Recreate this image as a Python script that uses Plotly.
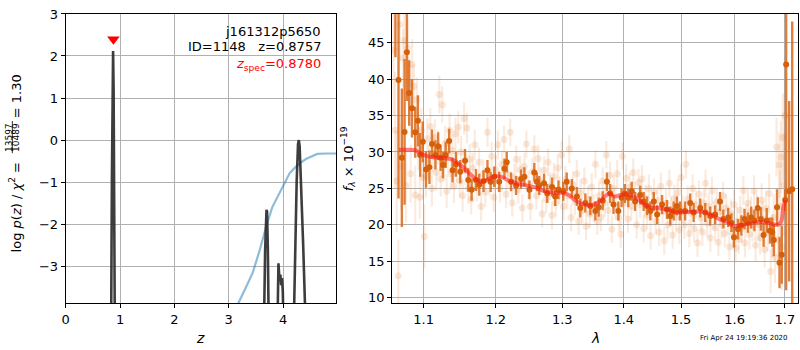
import plotly.graph_objects as go

# ---------------- left panel: p(z) ----------------
pz_z = [0.0, 0.83, 0.85, 0.862, 0.872, 0.882, 0.895, 0.91, 3.63, 3.67, 3.695, 3.705, 3.72, 3.75,
        3.89, 3.915, 3.935, 3.95, 3.965, 3.98, 3.995, 4.015, 4.18, 4.22, 4.25, 4.275, 4.29, 4.305,
        4.33, 4.37, 4.41, 4.43, 4.98]
pz_logp = [-9, -6.0, -1.0, 1.7, 2.12, 1.2, -2.0, -6.0, -6.0, -2.6, -1.66, -1.7, -2.6, -6.0,
           -5.0, -2.93, -3.35, -3.2, -3.45, -3.28, -3.6, -5.0, -5.5, -2.5, -1.0, -0.1, 0.0, -0.15,
           -1.0, -2.5, -4.2, -6.0, -9]

blue_z = [3.08, 3.17, 3.30, 3.44, 3.57, 3.69, 3.80, 3.93, 4.05, 4.12, 4.20, 4.30, 4.42, 4.54, 4.63, 4.80, 4.98]
blue_v = [-4.2, -3.9, -3.55, -3.16, -2.62, -2.05, -1.6, -1.26, -0.98, -0.79, -0.68, -0.56, -0.45, -0.37, -0.33, -0.32, -0.32]

z_spec = 0.878
z_spec_mark = 2.4

# ---------------- right panel: spectrum ----------------
model_lam = [1.068, 1.08, 1.09, 1.10, 1.11, 1.125, 1.14, 1.15, 1.16, 1.17, 1.18, 1.19, 1.20, 1.21, 1.22,
             1.23, 1.24, 1.25, 1.26, 1.27, 1.28, 1.29, 1.30, 1.31, 1.32, 1.33, 1.34, 1.35, 1.36, 1.37,
             1.375, 1.385, 1.395, 1.405, 1.415, 1.425, 1.435, 1.445, 1.46, 1.475, 1.49, 1.50, 1.52,
             1.54, 1.555, 1.57, 1.585, 1.60, 1.615, 1.63, 1.65, 1.67, 1.685, 1.692, 1.697, 1.701]
model_f = [30.3, 30.3, 30.2, 29.6, 29.3, 29.2, 28.9, 28.2, 27.3, 26.4, 25.9, 26.3, 26.7, 26.5, 26.0,
           25.7, 25.5, 25.3, 25.1, 24.7, 24.5, 24.4, 24.4, 24.1, 23.4, 22.9, 22.7, 22.8, 23.2, 24.0,
           24.3, 23.9, 24.1, 24.2, 23.9, 23.5, 22.8, 22.4, 22.3, 22.1, 21.7, 21.7, 21.8,
           21.8, 21.4, 20.8, 20.4, 19.8, 20.0, 20.2, 20.4, 20.2, 20.0, 20.4, 22.5, 23.4]

bin_lam = [1.0633, 1.0673, 1.0716, 1.0751, 1.0781, 1.0811, 1.0847, 1.0890, 1.0925, 1.0955, 1.0990,
           1.1032, 1.1078, 1.1112, 1.1158, 1.1195, 1.1228, 1.1260, 1.1297, 1.1344, 1.1391, 1.1437,
           1.1497, 1.1563, 1.1609, 1.1656, 1.1716, 1.1763, 1.1824, 1.1880, 1.1926, 1.1978, 1.2050,
           1.2125, 1.2159, 1.2223, 1.2297, 1.2371, 1.2421, 1.2496, 1.2570, 1.2610, 1.2644, 1.2718,
           1.2767, 1.2841, 1.2890, 1.2941, 1.3016, 1.3070, 1.3151, 1.3232, 1.3286, 1.3367, 1.3448,
           1.3529, 1.3584, 1.3650, 1.3719, 1.3773, 1.3828, 1.3909, 1.3963, 1.4018, 1.4077, 1.4135,
           1.4193, 1.4281, 1.4340, 1.4398, 1.4456, 1.4516, 1.4574, 1.4661, 1.4749, 1.4807, 1.4867,
           1.4925, 1.4982, 1.5074, 1.5167, 1.5230, 1.5352, 1.5444, 1.5537, 1.5630, 1.5722, 1.5785,
           1.5878, 1.5939, 1.5989, 1.6066, 1.6130, 1.6193, 1.6259, 1.6323, 1.6387, 1.6453, 1.6516,
           1.6569, 1.6632, 1.6696, 1.6743, 1.6774, 1.6839, 1.6890, 1.6936, 1.7005, 1.7025, 1.7087,
           1.7150]
bin_f = [60.0, 39.9, 29.2, 32.75, 43.7, 38.1, 36.0, 32.7, 34.3, 29.6, 31.4,
         27.6, 27.9, 31.1, 29.6, 30.8, 29.2, 28.2, 29.6, 31.5, 27.5, 28.3,
         27.3, 28.8, 26.15, 24.8, 26.15, 25.5, 26.0, 27.5, 25.9, 26.6, 25.9,
         27.7, 28.6, 25.9, 25.4, 26.3, 26.6, 24.8, 27.2, 25.9, 25.4, 25.7,
         24.3, 25.2, 23.9, 24.8, 24.6, 25.9, 25.0, 23.9, 22.3, 23.0, 22.6,
         21.9, 22.4, 23.3, 25.9, 24.3, 22.8, 21.9, 23.7, 24.3, 23.7, 24.6,
         23.2, 24.1, 23.2, 22.6, 21.9, 23.2, 21.4, 22.8, 22.1, 21.2, 21.9,
         22.6, 21.9, 21.9, 23.0, 21.7, 22.3, 21.7, 21.2, 21.4, 23.2, 20.8,
         21.0, 20.3, 18.3, 19.4, 19.9, 20.8, 20.3, 21.0, 20.6, 22.3, 20.8,
         18.6, 20.6, 19.2, 19.0, 17.9, 22.4, 14.8, 15.9, 23.4, 42.0, 24.6,
         24.9]
bin_err = [17, 16.3, 9.5, 10, 6.7, 4.5, 4.0, 3.5, 3.5, 3.0, 2.8,
           2.5, 2.3, 2.0, 2.0, 1.9, 1.8, 1.8, 1.8, 1.7, 1.7, 1.7,
           1.6, 1.6, 1.6, 1.5, 1.5, 1.5, 1.5, 1.4, 1.4, 1.4, 1.4,
           1.4, 1.4, 1.3, 1.3, 1.3, 1.3, 1.3, 1.3, 1.3, 1.3, 1.3,
           1.3, 1.3, 1.3, 1.3, 1.3, 1.3, 1.3, 1.3, 1.3, 1.3, 1.3,
           1.3, 1.3, 1.3, 1.3, 1.3, 1.3, 1.3, 1.3, 1.3, 1.3, 1.3,
           1.3, 1.3, 1.3, 1.3, 1.3, 1.3, 1.3, 1.3, 1.3, 1.3, 1.3,
           1.3, 1.3, 1.3, 1.3, 1.3, 1.3, 1.3, 1.3, 1.3, 1.3, 1.3,
           1.3, 1.3, 1.4, 1.4, 1.4, 1.4, 1.4, 1.5, 1.5, 1.5, 1.6,
           1.6, 1.7, 1.8, 2.0, 2.2, 2.5, 3.5, 4.0, 1.5, 31, 12.4,
           23]

exp_lam = [1.061, 1.063, 1.065, 1.067, 1.069, 1.071, 1.073, 1.075, 1.077, 1.079, 1.081, 1.083, 1.085,
           1.087, 1.089, 1.091, 1.093, 1.095, 1.097, 1.099, 1.101, 1.103, 1.105, 1.107, 1.109, 1.111,
           1.113, 1.115, 1.117, 1.119, 1.121, 1.123, 1.125, 1.127, 1.129, 1.131, 1.133, 1.135, 1.137,
           1.139, 1.141, 1.143, 1.145, 1.147, 1.149, 1.151, 1.153, 1.155, 1.157, 1.159, 1.161, 1.163,
           1.165, 1.167, 1.170, 1.173, 1.176, 1.179, 1.182, 1.185, 1.188, 1.191, 1.194, 1.197, 1.200,
           1.203, 1.206, 1.209, 1.212, 1.215, 1.218, 1.221, 1.224, 1.227, 1.230, 1.233, 1.236, 1.239,
           1.242, 1.245, 1.248, 1.251, 1.254, 1.257, 1.260, 1.263, 1.266, 1.269, 1.272, 1.275, 1.278,
           1.281, 1.284, 1.287, 1.290, 1.293, 1.296, 1.299, 1.302, 1.305, 1.308, 1.311, 1.314, 1.317,
           1.320, 1.323, 1.326, 1.329, 1.332, 1.335, 1.338, 1.341, 1.344, 1.347, 1.350, 1.353, 1.356,
           1.359, 1.362, 1.365, 1.368, 1.371, 1.374, 1.377, 1.380, 1.383, 1.386, 1.389, 1.392, 1.395,
           1.398, 1.401, 1.404, 1.407, 1.410, 1.413, 1.416, 1.419, 1.422, 1.425, 1.428, 1.431, 1.434,
           1.437, 1.440, 1.443, 1.446, 1.449, 1.452, 1.455, 1.458, 1.461, 1.464, 1.467, 1.470, 1.473,
           1.476, 1.479, 1.482, 1.485, 1.488, 1.491, 1.494, 1.497, 1.500, 1.503, 1.506, 1.509, 1.512,
           1.515, 1.518, 1.521, 1.524, 1.527, 1.530, 1.533, 1.536, 1.539, 1.542, 1.545, 1.548, 1.551,
           1.554, 1.557, 1.560, 1.563, 1.566, 1.569, 1.572, 1.575, 1.578, 1.581, 1.584, 1.587, 1.590,
           1.593, 1.596, 1.599, 1.602, 1.605, 1.608, 1.611, 1.614, 1.617, 1.620, 1.623, 1.626, 1.629,
           1.632, 1.635, 1.638, 1.641, 1.644, 1.647, 1.650, 1.653, 1.656, 1.659, 1.662, 1.665, 1.668,
           1.671, 1.674, 1.677, 1.680, 1.683, 1.686, 1.688, 1.690, 1.692, 1.694, 1.696, 1.698, 1.700]
exp_f = [44.0, 33.0, 26.0, 13.0, 47.5, 28.0, 42.9, 45.3, 25.4, 44.3, 39.5, 27.0, 42.0,
         39.0, 24.1, 37.2, 30.5, 23.8, 33.0, 26.5, 18.4, 26.7, 31.8, 28.5, 33.5, 25.0,
         29.8, 32.0, 27.2, 30.7, 37.9, 26.3, 36.5, 28.4, 31.2, 24.6, 29.5, 33.0, 27.0,
         30.2, 25.3, 32.5, 28.0, 33.4, 26.0, 30.0, 24.0, 34.6, 27.5, 33.3, 25.0, 29.0,
         23.5, 27.8, 31.0, 25.2, 28.6, 22.5, 27.0, 24.5, 32.7, 26.0, 29.4, 23.8, 27.5,
         31.0, 25.0, 28.3, 31.7, 24.2, 27.0, 32.7, 23.0, 26.5, 29.0, 24.8, 27.6, 22.3,
         28.0, 31.1, 25.5, 22.5, 27.3, 30.4, 24.0, 29.1, 26.0, 21.5, 27.5, 23.5, 28.6,
         25.3, 21.3, 26.6, 23.0, 27.8, 24.8, 29.6, 22.5, 26.2, 24.0, 30.4, 21.0, 25.5,
         23.2, 27.0, 20.5, 24.4, 22.0, 26.0, 19.8, 23.5, 21.5, 25.2, 22.3, 28.3, 20.5,
         24.0, 21.0, 26.0, 23.0, 29.6, 22.0, 26.8, 19.4, 25.0, 22.6, 27.0, 21.0, 18.7,
         29.4, 23.0, 26.4, 20.8, 25.2, 22.5, 27.2, 24.0, 20.0, 25.8, 22.8, 26.3, 19.5,
         23.6, 21.3, 25.0, 18.5, 22.6, 24.5, 20.5, 23.3, 19.0, 25.3, 21.8, 17.8, 23.0,
         20.0, 25.7, 22.0, 18.6, 23.6, 21.0, 24.4, 19.3, 26.5, 22.2, 20.0, 28.3, 23.5,
         18.8, 21.6, 25.0, 19.5, 22.8, 17.5, 24.2, 21.0, 19.0, 23.0, 25.7, 20.2, 22.5,
         18.2, 24.7, 21.3, 19.6, 23.2, 17.6, 21.8, 20.0, 24.0, 18.8, 22.3, 20.6, 17.0,
         21.5, 19.0, 22.8, 16.8, 20.5, 18.0, 22.0, 19.5, 24.7, 17.5, 20.9, 23.0, 18.7,
         21.8, 19.8, 24.6, 17.2, 22.0, 20.0, 18.2, 23.4, 20.8, 16.6, 22.2, 19.0, 24.3,
         13.6, 18.5, 21.0, 15.5, 30.7, 18.0, 28.2, 22.5, 29.3, 17.0, 32.0, 25.5, 35.0]
exp_err = [9, 8, 7, 5, 5, 6, 4, 4, 5, 4, 3.5, 4, 3.5,
           3, 4, 3, 3, 3, 3, 3, 4.4, 3, 2.8, 2.5, 2.5, 2.5,
           2.5, 2.5, 2.5, 2.4, 2.6, 2.4, 2.5, 2.4, 2.4, 2.3, 2.3, 2.3, 2.3,
           2.3, 2.3, 2.2, 2.2, 2.2, 2.2, 2.2, 2.2, 2.2, 2.1, 2.1, 2.1, 2.1,
           2.1, 2.1, 2.1, 2.0, 2.0, 2.0, 2.0, 2.0, 2.0, 2.0, 2.0, 2.0, 2.0,
           2.0, 1.9, 1.9, 1.9, 1.9, 1.9, 1.9, 1.9, 1.9, 1.9, 1.9, 1.9, 1.9,
           1.9, 1.9, 1.9, 1.9, 1.9, 1.9, 1.9, 1.9, 1.9, 1.9, 1.9, 1.9, 1.9,
           1.9, 1.9, 1.9, 1.9, 1.9, 1.9, 1.9, 1.9, 1.9, 1.9, 1.9, 1.9, 1.9,
           1.9, 1.9, 1.9, 1.9, 1.9, 1.9, 1.9, 1.9, 1.9, 1.9, 1.9, 1.9, 1.9,
           1.9, 1.9, 1.9, 1.9, 1.9, 1.9, 1.9, 1.9, 1.9, 1.9, 1.9, 1.9, 1.9,
           1.9, 1.9, 1.9, 1.9, 1.9, 1.9, 1.9, 1.9, 1.9, 1.9, 1.9, 1.9, 1.9,
           1.9, 1.9, 1.9, 1.9, 1.9, 1.9, 1.9, 1.9, 1.9, 1.9, 1.9, 1.9, 1.9,
           1.9, 1.9, 1.9, 1.9, 1.9, 1.9, 1.9, 1.9, 1.9, 1.9, 1.9, 1.9, 1.9,
           1.9, 1.9, 1.9, 1.9, 1.9, 1.9, 1.9, 1.9, 1.9, 1.9, 1.9, 1.9, 1.9,
           1.9, 1.9, 1.9, 1.9, 1.9, 1.9, 1.9, 1.9, 1.9, 1.9, 1.9, 1.9, 1.9,
           2.0, 2.0, 2.0, 2.0, 2.0, 2.0, 2.0, 2.0, 2.0, 2.0, 2.0, 2.1, 2.1,
           2.1, 2.1, 2.2, 2.2, 2.2, 2.2, 2.3, 2.3, 2.4, 2.5, 2.5, 2.6, 2.7,
           3.0, 3.0, 3.2, 3.5, 4.0, 4.0, 4.5, 5.0, 5.0, 6.0, 6.0, 7.0, 8.0]

left_xticks = [0, 1, 2, 3, 4]
left_yticks = [-3, -2, -1, 0, 1, 2, 3]
right_xticks = [1.1, 1.2, 1.3, 1.4, 1.5, 1.6, 1.7]
right_yticks = [10, 15, 20, 25, 30, 35, 40, 45]

FONT = "DejaVu Sans"
ORANGE = "rgb(214,96,10)"

fig = go.Figure()

# left panel traces
fig.add_trace(go.Scatter(x=blue_z, y=blue_v, mode="lines",
                         line=dict(color="rgba(31,119,180,0.5)", width=2.2),
                         xaxis="x", yaxis="y", showlegend=False, hoverinfo="skip"))
fig.add_trace(go.Scatter(x=pz_z, y=pz_logp, mode="lines",
                         line=dict(color="rgba(40,40,40,0.9)", width=2.6),
                         xaxis="x", yaxis="y", showlegend=False, hoverinfo="skip"))
fig.add_trace(go.Scatter(x=[z_spec], y=[z_spec_mark], mode="markers",
                         marker=dict(symbol="triangle-down", color="red", size=11, line=dict(width=0)),
                         xaxis="x", yaxis="y", showlegend=False, hoverinfo="skip"))

# right panel traces
fig.add_trace(go.Scatter(x=exp_lam, y=exp_f, mode="markers",
                         marker=dict(color="rgba(224,110,30,0.16)", size=7, line=dict(width=0)),
                         error_y=dict(type="data", array=exp_err, visible=True,
                                      color="rgba(224,110,30,0.14)", thickness=2.2, width=0),
                         xaxis="x2", yaxis="y2", showlegend=False, hoverinfo="skip"))
fig.add_trace(go.Scatter(x=bin_lam, y=bin_f, mode="markers",
                         marker=dict(color=ORANGE, size=6, line=dict(width=0)),
                         error_y=dict(type="data", array=bin_err, visible=True,
                                      color="rgba(218,104,25,0.85)", thickness=2.4, width=0),
                         xaxis="x2", yaxis="y2", showlegend=False, hoverinfo="skip"))
fig.add_trace(go.Scatter(x=model_lam, y=model_f, mode="lines",
                         line=dict(color="rgba(255,20,20,0.55)", width=4, shape="spline"),
                         xaxis="x2", yaxis="y2", showlegend=False, hoverinfo="skip"))

W, H = 800, 350
px = lambda v: v / W
py = lambda v: (H - v) / H

axis_common = dict(showline=True, linecolor="black", linewidth=1, mirror=True,
                   ticks="outside", ticklen=4, tickcolor="black", tickwidth=1,
                   showgrid=True, gridcolor="#b0b0b0", gridwidth=1, zeroline=False,
                   ticklabeloverflow="allow",
                   tickfont=dict(family=FONT, size=13, color="black"))

fig.update_layout(
    width=W, height=H,
    margin=dict(l=0, r=0, t=0, b=0),
    paper_bgcolor="white", plot_bgcolor="white",
    font=dict(family=FONT, size=13, color="black"),
    xaxis=dict(domain=[px(62), px(334)], range=[0, 4.98], tickvals=left_xticks,
               anchor="y", **axis_common),
    yaxis=dict(domain=[py(304), py(7)], range=[-3.88, 3.003], tickvals=left_yticks,
               anchor="x", **axis_common),
    xaxis2=dict(domain=[px(390), px(798)], type="log", range=[0.0249, 0.2373],
                tickvals=right_xticks, ticktext=[str(t) for t in right_xticks],
                anchor="y2", **axis_common),
    yaxis2=dict(domain=[py(304), py(7)], range=[9.24, 48.97], tickvals=right_yticks,
                anchor="x2", **axis_common),
)

ann = []
# texts inside left panel
ann.append(dict(x=px(321), y=py(25), xref="paper", yref="paper", xanchor="right", yanchor="middle",
                text="j161312p5650", showarrow=False, font=dict(family=FONT, size=13, color="black")))
ann.append(dict(x=px(321), y=py(41), xref="paper", yref="paper", xanchor="right", yanchor="middle",
                text="ID=1148\u00a0\u00a0\u00a0z=0.8757", showarrow=False,
                font=dict(family=FONT, size=13, color="black")))
ann.append(dict(x=px(321), y=py(59), xref="paper", yref="paper", xanchor="right", yanchor="middle",
                text="<i>z</i><sub>spec</sub>=0.8780", showarrow=False,
                font=dict(family=FONT, size=13, color="red")))
# axis titles
ann.append(dict(x=px(197), y=py(340), xref="paper", yref="paper", xanchor="center", yanchor="middle",
                text="<i>z</i>", showarrow=False, font=dict(family=FONT, size=14, color="black")))
ann.append(dict(x=px(594), y=py(340), xref="paper", yref="paper", xanchor="center", yanchor="middle",
                text="<i>λ</i>", showarrow=False, font=dict(family=FONT, size=14, color="black")))
ann.append(dict(x=px(346), y=py(156), xref="paper", yref="paper", xanchor="center", yanchor="middle",
                text="<i>f</i><sub><i>λ</i></sub> × 10<sup>−19</sup>", textangle=-90, showarrow=False,
                font=dict(family=FONT, size=13, color="black")))
# left y title, pieced to mimic the stacked fraction
ann.append(dict(x=px(12), y=py(254), xref="paper", yref="paper", xanchor="center", yanchor="bottom",
                text="log <i>p</i>(<i>z</i>) / <i>χ</i><sup>2</sup> =", textangle=-90, showarrow=False,
                font=dict(family=FONT, size=13, color="black")))
ann.append(dict(x=px(5), y=py(133.5), xref="paper", yref="paper", xanchor="center", yanchor="middle",
                text="13597", textangle=-90, showarrow=False,
                font=dict(family=FONT, size=9, color="black")))
ann.append(dict(x=px(12), y=py(133.5), xref="paper", yref="paper", xanchor="center", yanchor="middle",
                text="10489", textangle=-90, showarrow=False,
                font=dict(family=FONT, size=9, color="black")))
ann.append(dict(x=px(12), y=py(67), xref="paper", yref="paper", xanchor="center", yanchor="top",
                text="= 1.30", textangle=-90, showarrow=False,
                font=dict(family=FONT, size=13, color="black")))
# timestamp
ann.append(dict(x=px(744), y=py(340), xref="paper", yref="paper", xanchor="center", yanchor="middle",
                text="Fri Apr 24 19:19:36 2020", showarrow=False,
                font=dict(family=FONT, size=7, color="black")))
fig.update_layout(annotations=ann)

fig.add_shape(type="line", xref="paper", yref="paper", x0=px(8.4), x1=px(8.4), y0=py(150), y1=py(117),
              line=dict(color="black", width=0.8))

fig.write_html("out.html")
